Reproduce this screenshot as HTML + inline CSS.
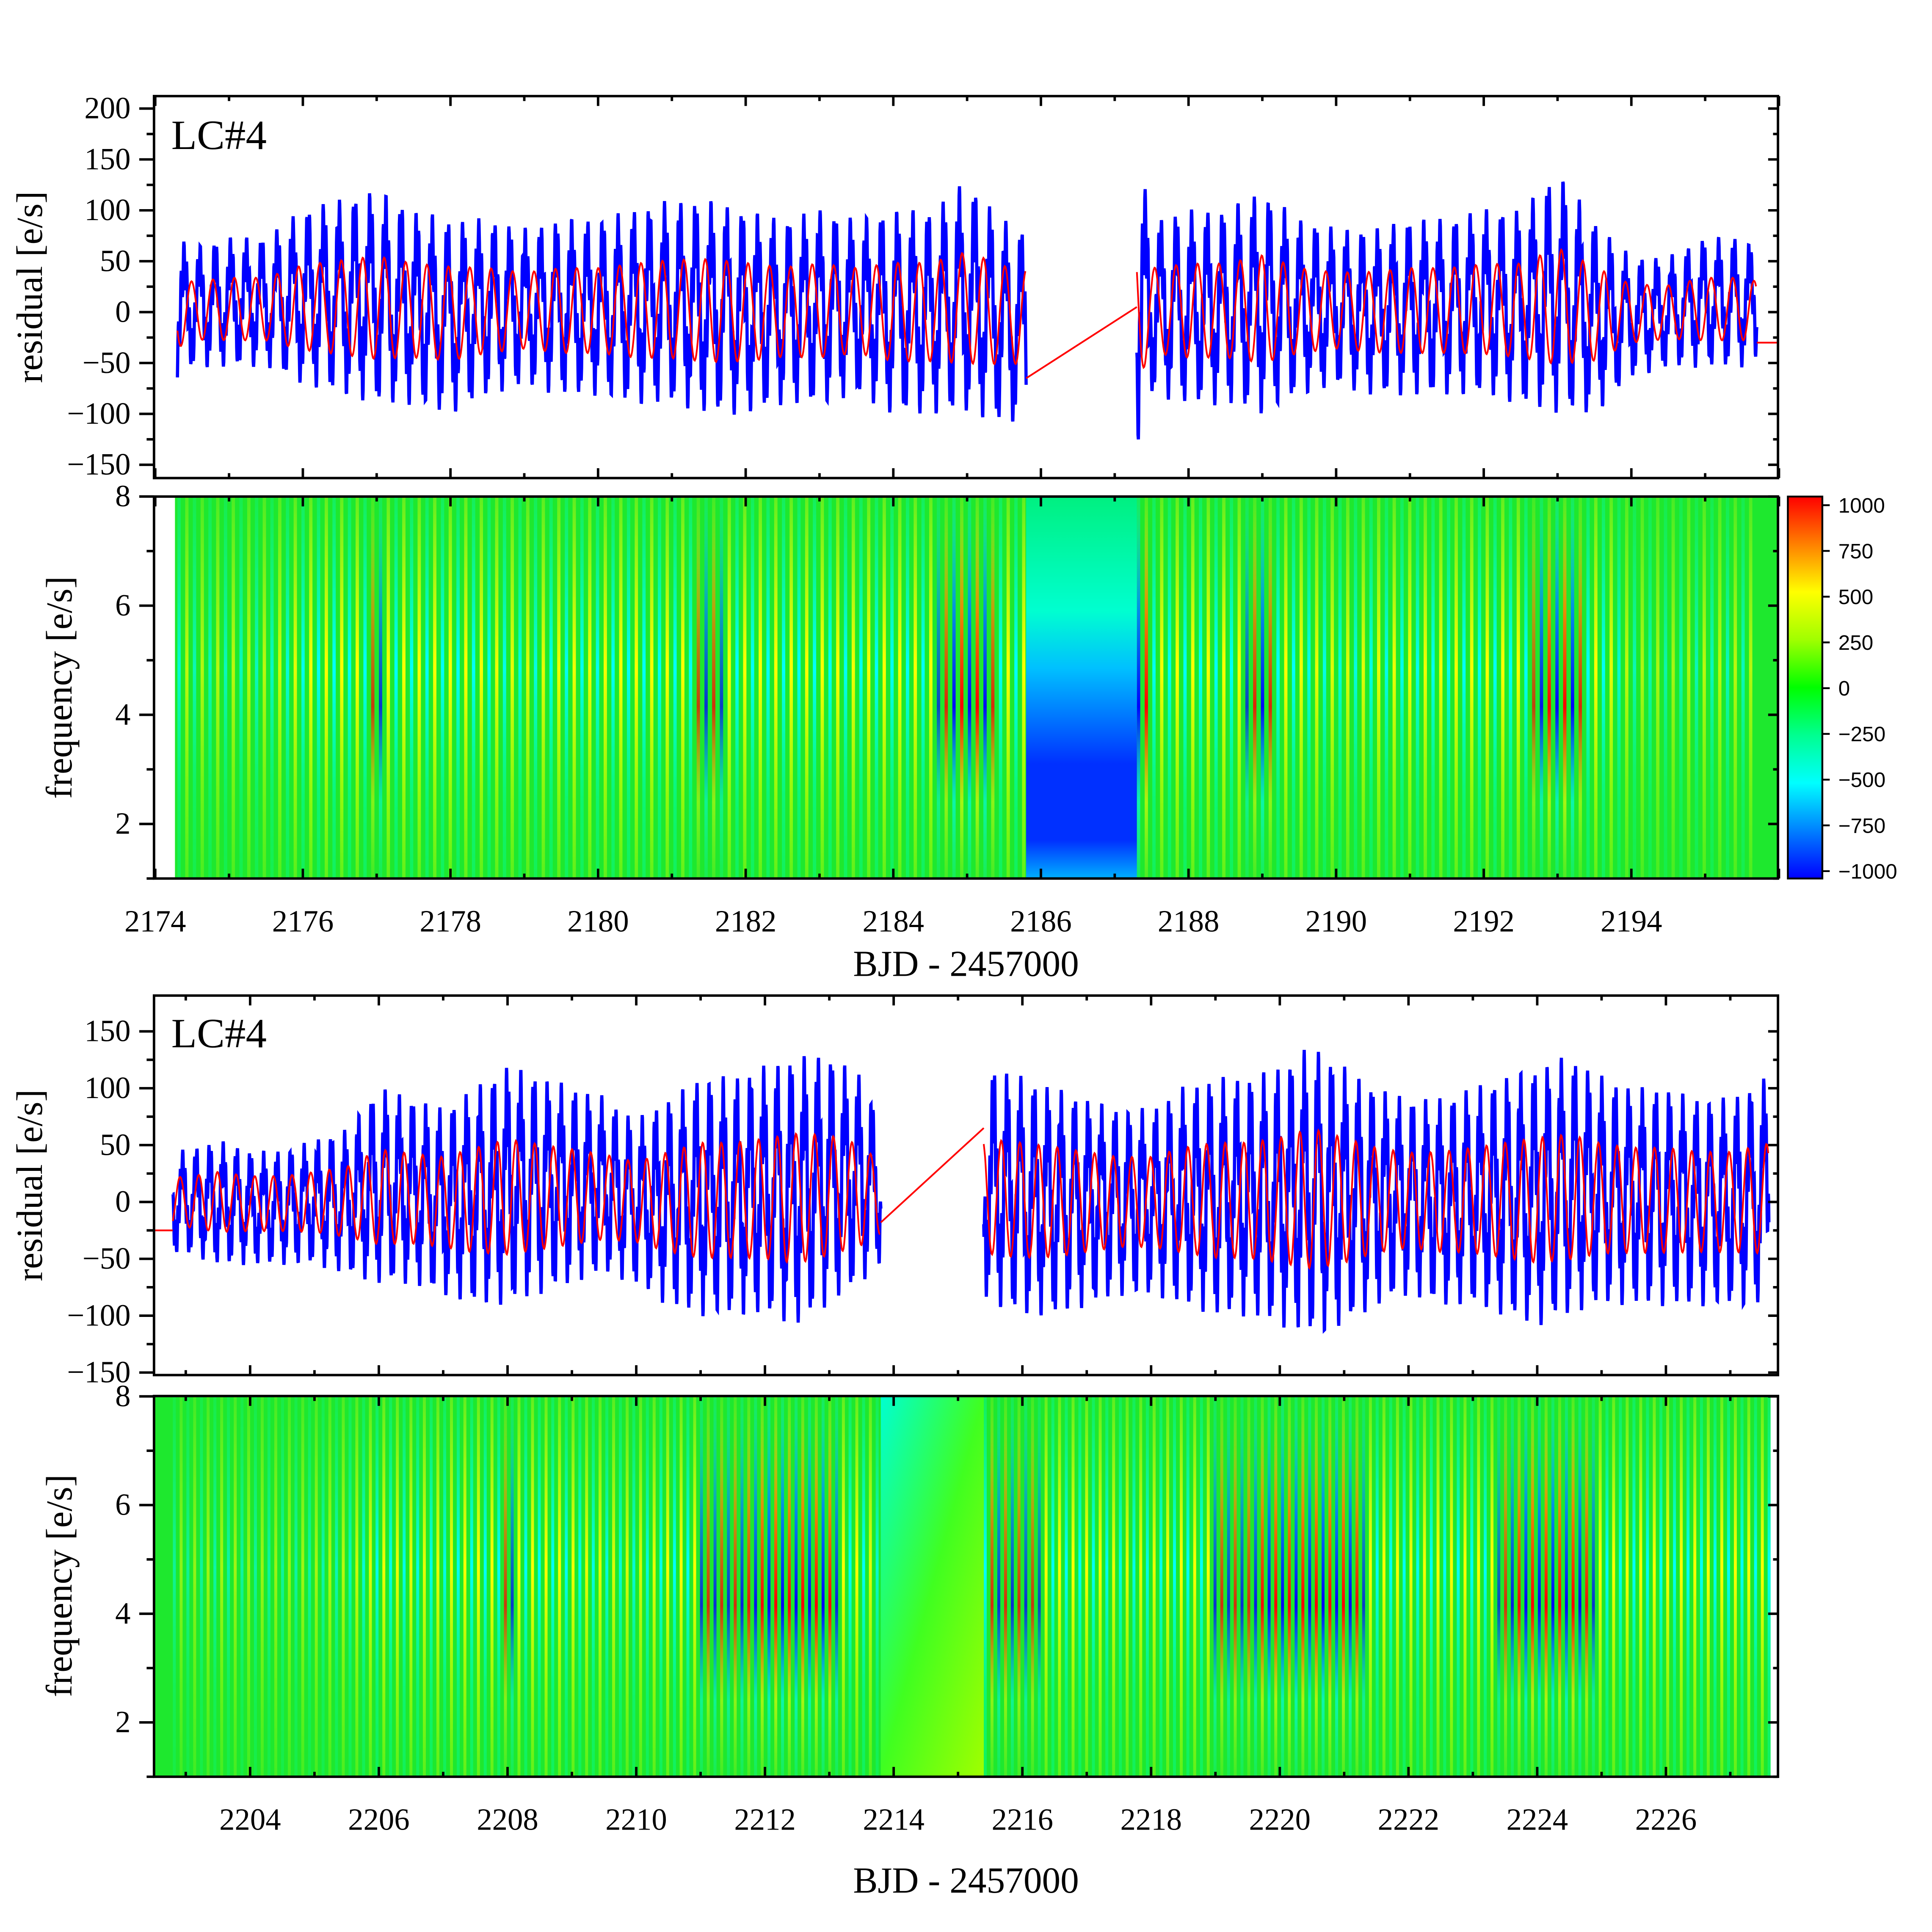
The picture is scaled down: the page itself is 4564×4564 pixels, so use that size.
<!DOCTYPE html>
<html><head><meta charset="utf-8"><style>html,body{margin:0;padding:0;background:#fff}svg{display:block}</style></head>
<body>
<svg id="chart" xmlns="http://www.w3.org/2000/svg" width="4564" height="4564" viewBox="0 0 1568 1568" font-family="'Liberation Serif', serif">
<defs>
 <linearGradient id="cbar" x1="0" y1="0" x2="0" y2="1">
  <stop offset="0" stop-color="#ff0000"/><stop offset="0.125" stop-color="#ff8000"/><stop offset="0.25" stop-color="#ffff00"/>
  <stop offset="0.375" stop-color="#a0ff00"/><stop offset="0.5" stop-color="#00ff00"/><stop offset="0.625" stop-color="#00ff90"/>
  <stop offset="0.75" stop-color="#00ffff"/><stop offset="0.875" stop-color="#0080ff"/><stop offset="1" stop-color="#0000ff"/>
 </linearGradient>
 <linearGradient id="gY" x1="0" y1="0" x2="0" y2="1"><stop offset="0" stop-color="#ffff00" stop-opacity="0.3"/><stop offset="0.45" stop-color="#ffff00" stop-opacity="1"/><stop offset="0.8" stop-color="#c0ff00" stop-opacity="0.7"/><stop offset="1" stop-color="#c0ff00" stop-opacity="0.4"/></linearGradient>
 <linearGradient id="gC" x1="0" y1="0" x2="0" y2="1"><stop offset="0" stop-color="#00ffc0" stop-opacity="0.3"/><stop offset="0.45" stop-color="#00ffff" stop-opacity="1"/><stop offset="0.8" stop-color="#00ffa0" stop-opacity="0.6"/><stop offset="1" stop-color="#00ffa0" stop-opacity="0.4"/></linearGradient>
 <linearGradient id="gR" x1="0" y1="0" x2="0" y2="1"><stop offset="0" stop-color="#ffff00" stop-opacity="0.2"/><stop offset="0.3" stop-color="#ff8000" stop-opacity="0.9"/><stop offset="0.55" stop-color="#ff0000" stop-opacity="1"/><stop offset="0.8" stop-color="#ffff00" stop-opacity="0.6"/><stop offset="1" stop-color="#ffff00" stop-opacity="0.2"/></linearGradient>
 <linearGradient id="gB" x1="0" y1="0" x2="0" y2="1"><stop offset="0" stop-color="#00ffff" stop-opacity="0.2"/><stop offset="0.3" stop-color="#0080ff" stop-opacity="0.9"/><stop offset="0.55" stop-color="#0000ff" stop-opacity="1"/><stop offset="0.8" stop-color="#00ffff" stop-opacity="0.6"/><stop offset="1" stop-color="#00ffff" stop-opacity="0.2"/></linearGradient>
 <linearGradient id="gap1" x1="0" y1="0" x2="0" y2="1"><stop offset="0" stop-color="#00f080"/><stop offset="0.3" stop-color="#00ffd0"/><stop offset="0.45" stop-color="#00c0ff"/><stop offset="0.7" stop-color="#0030ff"/><stop offset="0.9" stop-color="#0030ff"/><stop offset="1" stop-color="#00b0ff"/></linearGradient>
 <linearGradient id="gap2" x1="0" y1="0" x2="1" y2="1"><stop offset="0" stop-color="#00ffd0"/><stop offset="0.5" stop-color="#40ff20"/><stop offset="1" stop-color="#a0ff00"/></linearGradient>
</defs>
<rect x="0" y="0" width="1568" height="1568" fill="#fff"/>
<g id="layer"></g>
</svg>
<script>
// ---- data ----
const t1a = [2174.3,2174.5,2175,2175.5,2176,2176.5,2177,2177.5,2178,2178.5,2179,2179.5,2180,2180.5,2181,2181.5,2182,2182.5,2183,2183.5,2184,2184.5,2185,2185.5,2185.8];
const up1a = [80,70,80,80,110,120,130,110,100,100,90,100,100,110,120,120,110,100,110,100,110,110,140,100,90];
const lo1a = [-80,-60,-60,-60,-80,-90,-100,-100,-110,-90,-80,-90,-90,-100,-100,-110,-110,-100,-100,-90,-110,-110,-110,-120,-120];
const t1b = [2187.3,2187.5,2188,2188.5,2189,2189.5,2190,2190.5,2191,2191.5,2192,2192.5,2193,2193.5,2194,2194.5,2195,2195.5,2195.7];
const up1b = [170,100,110,110,130,100,90,90,100,100,110,110,150,100,60,60,80,80,70];
const lo1b = [-150,-90,-100,-100,-110,-90,-80,-90,-90,-90,-90,-100,-110,-110,-70,-60,-60,-60,-60];
const t3a = [2202.8,2203,2203.5,2204,2204.5,2205,2205.5,2206,2206.5,2207,2207.5,2208,2208.5,2209,2209.5,2210,2210.5,2211,2211.5,2212,2212.5,2213,2213.5,2213.8];
const up3a = [50,50,60,50,50,60,70,110,100,90,110,130,120,110,100,80,100,120,120,130,140,140,120,80];
const lo3a = [-50,-50,-60,-60,-60,-60,-70,-80,-80,-90,-100,-100,-90,-80,-70,-80,-100,-110,-110,-110,-120,-100,-80,-60];
const t3b = [2215.4,2215.5,2216,2216.5,2217,2217.5,2218,2218.5,2219,2219.5,2220,2220.5,2221,2221.5,2222,2222.5,2223,2223.5,2224,2224.5,2225,2225.5,2226,2226.5,2227,2227.6];
const up3b = [130,130,120,110,100,90,90,110,120,120,130,150,130,110,100,100,110,120,130,140,120,110,110,100,100,120];
const lo3b = [-90,-100,-110,-110,-100,-90,-90,-100,-110,-110,-120,-130,-120,-100,-90,-100,-100,-110,-120,-110,-100,-100,-100,-100,-100,-100];
const yTicks1 = [200,150,100,50,0,-50,-100,-150];
const yTicks3 = [150,100,50,0,-50,-100,-150];
const fTicks = [2,4,6,8];
const xTicks2 = [2174,2176,2178,2180,2182,2184,2186,2188,2190,2192,2194];
const xTicks4 = [2204,2206,2208,2210,2212,2214,2216,2218,2220,2222,2224,2226];
const cbTicks = [1000,750,500,250,0,-250,-500,-750,-1000];

// ---- scales ----
const X1 = t => 126 + (t-2174)*59.9;
const Y1 = v => 253.3 - v*0.826;
const F2 = f => 713 - (f-1)*44.29;
const X3 = t => 203 + (t-2204)*52.23;
const Y3 = v => 975.5 - v*0.923;
const F4 = f => 1442 - (f-1)*44.1;
const CB = v => 558.5 - v*0.1485;

const NS='http://www.w3.org/2000/svg';
const layer=document.getElementById('layer');
function mk(tag, attrs, parent){const e=document.createElementNS(NS,tag);for(const k in attrs)e.setAttribute(k,attrs[k]);(parent||layer).appendChild(e);return e;}
function interp(ts, vs, t){for(let i=0;i<ts.length-1;i++){if(t>=ts[i]&&t<=ts[i+1]){const f=(t-ts[i])/(ts[i+1]-ts[i]);return vs[i]+f*(vs[i+1]-vs[i]);}}return vs[vs.length-1];}
const fmt = v => (v<0?'\u2212'+(-v):''+v);

function residualPanel(X,Y,segs,gapLine,name){
  const g=mk('g',{});
  
  
  const red=[];
  segs.forEach(s=>{
    let d='';
    const ts=s[0],up=s[1],lo=s[2];
    for(let t=ts[0];t<=ts[ts.length-1];t+=0.004){
      const u=interp(ts,up,t), l=interp(ts,lo,t);
      const m=(u+l)/2, a=(u-l)/2;
      const v=m + a*(0.62*Math.sin(2*Math.PI*t/0.21)+0.3*Math.sin(2*Math.PI*t/0.037));
      d+=(d?'L':'M')+X(t).toFixed(1)+','+Y(v).toFixed(1);
    }
    const p=mk('path',{d:d,fill:'none',stroke:'#0000ff','stroke-width':2.6},g);
    
    
    let rd='';
    for(let t=ts[0];t<=ts[ts.length-1];t+=0.01){
      const u=interp(ts,up,t), l=interp(ts,lo,t);
      const v=(u+l)/2*0.3 + (u-l)*0.22*Math.sin(2*Math.PI*t/0.29);
      rd+=(rd?'L':'M')+X(t).toFixed(1)+','+Y(v).toFixed(1);
    }
    red.push(rd);
  });
  const r=mk('path',{d:red.join(''),fill:'none',stroke:'#ff0000','stroke-width':1.4},g);
  
  
  gapLine.forEach(L=>{
    const l=mk('line',{x1:X(L[0]),y1:Y(L[1]),x2:X(L[2]),y2:Y(L[3]),stroke:'#ff0000','stroke-width':1.4},g);
    
    
  });
}

function heatmap(X,F,x0,x1,segs,gapX0,gapX1,gapFill,name){
  const g=mk('g',{});
  
  
  const top=F(8), bot=F(1);
  const base=mk('rect',{x:x0,y:top,width:x1-x0,height:bot-top,fill:'#1ee82e'},g);
  
  
  segs.forEach(s=>{
    const ts=s[0],up=s[1],lo=s[2];
    let k=0;
    for(let t=ts[0];t<ts[ts.length-1];t+=0.105){
      const amp=interp(ts,up,t)-interp(ts,lo,t);
      let fill, op;
      if(amp>225){fill=(k%2)?'url(#gR)':'url(#gB)';op=Math.min(1,(amp-190)/50);}
      else {fill=(k%2)?'url(#gY)':'url(#gC)';op=Math.min(1,amp/200);}
      const r=mk('rect',{x:X(t).toFixed(1),y:top,width:(X(t+0.045)-X(t)).toFixed(1),height:bot-top,fill:fill,opacity:op.toFixed(2)},g);
      
      
      k++;
    }
  });
  const gp=mk('rect',{x:gapX0,y:top,width:gapX1-gapX0,height:bot-top,fill:gapFill},g);
  
  
}

function frame(x0,y0,x1,y1,name){
  const r=mk('rect',{x:x0,y:y0,width:x1-x0,height:y1-y0,fill:'none',stroke:'#000','stroke-width':2});
  
  
}
function xTicks(X,t0,t1,y0,y1,labels,labelY,name){
  for(let t=Math.ceil(t0);t<=t1;t++){
    const major=(t%2===0), len=major?8:4;
    mk('line',{x1:X(t),y1:y1,x2:X(t),y2:y1-len,stroke:'#000','stroke-width':2});
    mk('line',{x1:X(t),y1:y0,x2:X(t),y2:y0+len,stroke:'#000','stroke-width':2});
  }
  if(labels){labels.forEach(t=>{
    const tx=mk('text',{x:X(t),y:labelY,'font-size':25,'text-anchor':'middle'});tx.textContent=t;
    
    
  });}
}
function yTicks(Y,vals,minorStep,vmin,vmax,x0,x1,name,fmtf){
  for(let v=vmin;v<=vmax+0.001;v+=minorStep){
    const major=vals.some(q=>Math.abs(q-v)<0.001), len=major?12:6;
    mk('line',{x1:x0-len,y1:Y(v),x2:x0,y2:Y(v),stroke:'#000','stroke-width':2});
    mk('line',{x1:x1,y1:Y(v),x2:x1-(major?8:4),y2:Y(v),stroke:'#000','stroke-width':2});
  }
  vals.forEach(v=>{
    const tx=mk('text',{x:x0-19,y:Y(v)+8,'font-size':25,'text-anchor':'end'});tx.textContent=fmtf(v);
    
    
  });
}
function vlabel(x,y,txt,name){
  const t=mk('text',{x:x,y:y,'font-size':30,'text-anchor':'middle',transform:'rotate(-90 '+x+' '+y+')'});t.textContent=txt;
  
  
}
function text(x,y,s,txt,name,anchor){
  const t=mk('text',{x:x,y:y,'font-size':s,'text-anchor':anchor||'start'});t.textContent=txt;
  
  
}

// Panel 1
residualPanel(X1,Y1,[[t1a,up1a,lo1a],[t1b,up1b,lo1b]],[[2185.8,-65,2187.3,5],[2195.7,-30,2196.0,-30]],'panel1');
frame(125,78,1443,388,'panel1');
xTicks(X1,2174,2196,78,388,null,0,'panel1-x');
yTicks(Y1,yTicks1,25,-150,200,125,1443,'panel1-y',fmt);
text(139,121,34,'LC#4','panel1-title');
vlabel(34,233,'residual [e/s]','panel1-y-axis-title');

// Panel 2
heatmap(X1,F2,142,1443,[[t1a,up1a,lo1a],[t1b,up1b,lo1b]],X1(2185.8),X1(2187.3),'url(#gap1)','panel2-heatmap');
frame(125,403,1443,713,'panel2');
xTicks(X1,2174,2196,403,713,xTicks2,756,'panel2-x');
yTicks(F2,fTicks,1,1,8,125,1443,'panel2-y',v=>''+v);
vlabel(58,558,'frequency [e/s]','panel2-y-axis-title');
text(784,792,30,'BJD - 2457000','panel2-x-axis-title','middle');

// Colorbar
const cb=mk('rect',{x:1451,y:403,width:28,height:310,fill:'url(#cbar)',stroke:'#000','stroke-width':1.5});


cbTicks.forEach(v=>{
  mk('line',{x1:1479,y1:CB(v),x2:1485,y2:CB(v),stroke:'#000','stroke-width':1.5});
  const t=mk('text',{x:1492,y:CB(v)+6,'font-size':17,'font-family':"'Liberation Sans', sans-serif"});t.textContent=fmt(v);
  
  
});

// Panel 3
residualPanel(X3,Y3,[[t3a,up3a,lo3a],[t3b,up3b,lo3b]],[[2202.5,-25,2202.8,-25],[2213.8,-18,2215.4,65]],'panel3');
frame(125,808,1443,1116,'panel3');
xTicks(X3,2202.5,2227.7,808,1116,null,0,'panel3-x');
yTicks(Y3,yTicks3,25,-150,150,125,1443,'panel3-y',fmt);
text(139,850,34,'LC#4','panel3-title');
vlabel(34,962,'residual [e/s]','panel3-y-axis-title');

// Panel 4
heatmap(X3,F4,125,1437,[[t3a,up3a,lo3a],[t3b,up3b,lo3b]],X3(2213.8),X3(2215.4),'url(#gap2)','panel4-heatmap');
frame(125,1133,1443,1442,'panel4');
xTicks(X3,2202.5,2227.7,1133,1442,xTicks4,1485,'panel4-x');
yTicks(F4,fTicks,1,1,8,125,1443,'panel4-y',v=>''+v);
vlabel(58,1287,'frequency [e/s]','panel4-y-axis-title');
text(784,1536,30,'BJD - 2457000','panel4-x-axis-title','middle');
</script>
</body></html>
